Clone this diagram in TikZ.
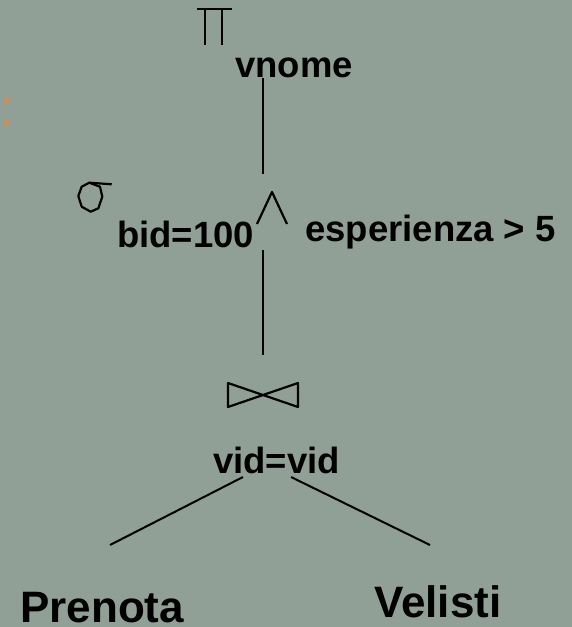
\documentclass[tikz,border=0pt]{standalone}
\usepackage{fontspec}
\setmainfont{Liberation Sans}
\definecolor{bg}{RGB}{145,160,150}
\definecolor{dot}{RGB}{196,146,98}
\tikzset{
  lbl/.style={anchor=base west, inner sep=0pt, font=\fontsize{36.5}{40}\selectfont\bfseries},
  rel/.style={anchor=base west, inner sep=0pt, font=\fontsize{44}{48}\selectfont\bfseries},
  edge/.style={line width=2pt, black},
  sym/.style={line width=2.2pt, black, line join=round}
}
\begin{document}
\begin{tikzpicture}[x=1pt,y=-1pt]
\fill[bg] (0,0) rectangle (572,627);
\useasboundingbox (0,0) rectangle (572,627);
% bullets
\fill[dot] (7,101) circle (3.5);
\fill[dot] (7,123) circle (3.5);
% projection symbol
\draw[sym] (197,9) -- (232,9) (205,9) -- (205,45) (222,9) -- (222,45);
\node[lbl] (vnome) at (235,77) {vnome};
% selection symbol
\draw[sym] (89.3,182.7) -- (100,186.7) -- (102.3,196.7) -- (98.3,208.3) -- (90.7,211.7) -- (81.7,206.7) -- (78.3,196) -- (81.7,186.7) -- cycle;
\draw[sym] (89.3,182.7) -- (111.7,184.3);
\node[lbl] (bid) at (117,247) {bid=100};
\draw[sym] (257,224) -- (272,192) -- (287,224);
\node[lbl] (esp) at (305,241) {esperienza > 5};
% join symbol
\draw[sym] (228,383) -- (228,407) -- (298,383) -- (298,407) -- cycle;
\node[lbl] (vid) at (213,473) {vid=vid};
% relations
\node[rel] (pren) at (20,622) {Prenota};
\node[rel] (vel) at (374,617) {Velisti};
% connector coordinates
\coordinate (a1) at (263,78);
\coordinate (a2) at (263,174);
\coordinate (b1) at (263,250);
\coordinate (b2) at (263,355);
\coordinate (c1) at (243,477);
\coordinate (c2) at (110,545);
\coordinate (d1) at (291,477);
\coordinate (d2) at (430,545);
\draw[edge] (a1) -- (a2);
\draw[edge] (b1) -- (b2);
\draw[edge] (c1) -- (c2);
\draw[edge] (d1) -- (d2);
\end{tikzpicture}
\end{document}
